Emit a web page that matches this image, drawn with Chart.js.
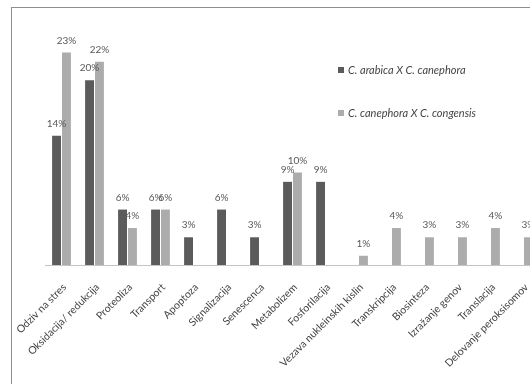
<!DOCTYPE html>
<html>
<head>
<meta charset="utf-8">
<script src="https://cdn.jsdelivr.net/npm/chart.js@4.4.1/dist/chart.umd.min.js"></script>
<style>
  html, body { margin: 0; padding: 0; background: #fff; overflow: hidden; width: 530px; height: 384px; }
  #frame { position: absolute; left: 11px; top: 7px; width: 620px; height: 440px; border: 1px solid #8e8e8e; box-sizing: border-box; }
  #wrap { position: absolute; left: 0; top: 0; width: 560px; height: 384px; }
</style>
</head>
<body>
<div id="frame"></div>
<div id="wrap"><canvas id="c" width="560" height="384"></canvas></div>
<script>
// Functional categories of genes
const categories = [
  'Odziv na stres', 'Oksidacija/ redukcija', 'Proteoliza', 'Transport', 'Apoptoza',
  'Signalizacija', 'Senescenca', 'Metabolizem', 'Fosforilacija',
  'Vezava nukleinskih kislin', 'Transkripcija', 'Biosinteza', 'Izražanje genov',
  'Translacija', 'Delovanje peroksisomov'
];

// Share of genes per category (%)
const arabicaXcanephora = [14, 20, 6, 6, 3, 6, 3, 9, 9, null, null, null, null, null, null];
const canephoraXcongensis = [23, 22, 4, 6, null, null, null, 10, null, 1, 4, 3, 3, 4, 3];

const seriesNames = ['C. arabica X C. canephora', 'C. canephora X C. congensis'];
const seriesColors = ['#5b5b5b', '#acacac'];

const FONT = 'Lato, "Liberation Sans", sans-serif';

// Percent labels above each bar
const valueLabels = {
  id: 'valueLabels',
  afterDatasetsDraw(chart) {
    const ctx = chart.ctx;
    ctx.save();
    ctx.font = '10px ' + FONT;
    ctx.fillStyle = '#595959';
    ctx.textAlign = 'center';
    ctx.textBaseline = 'middle';
    chart.data.datasets.forEach((ds, i) => {
      chart.getDatasetMeta(i).data.forEach((bar, j) => {
        const v = ds.data[j];
        if (v == null) return;
        ctx.fillText(Math.round(v) + '%', bar.x, bar.y - 12);
      });
    });
    ctx.restore();
  }
};

// Legend placed inside the plot, to the right
const insideLegend = {
  id: 'insideLegend',
  afterDraw(chart) {
    const ctx = chart.ctx;
    ctx.save();
    ctx.font = 'italic 11px ' + FONT;
    ctx.textAlign = 'left';
    ctx.textBaseline = 'middle';
    const x = 338, ys = [70, 113];
    chart.data.datasets.forEach((ds, i) => {
      ctx.fillStyle = ds.backgroundColor;
      ctx.fillRect(x, ys[i] - 3, 6, 6);
      ctx.fillStyle = '#444';
      ctx.fillText(ds.label, x + 10, ys[i]);
    });
    ctx.restore();
  }
};

new Chart(document.getElementById('c'), {
  type: 'bar',
  data: {
    labels: categories,
    datasets: [
      { label: seriesNames[0], data: arabicaXcanephora, backgroundColor: seriesColors[0] },
      { label: seriesNames[1], data: canephoraXcongensis, backgroundColor: seriesColors[1] }
    ]
  },
  options: {
    responsive: false,
    animation: false,
    devicePixelRatio: 1,
    categoryPercentage: 0.6,
    barPercentage: 0.9,
    layout: { padding: { left: 45, right: 20, top: 34, bottom: 0 } },
    plugins: {
      legend: { display: false },
      tooltip: { enabled: false }
    },
    scales: {
      x: {
        grid: { display: false, drawTicks: false },
        border: { color: '#c4c4c4', width: 1 },
        ticks: {
          autoSkip: false,
          maxRotation: 45,
          minRotation: 45,
          padding: 16,
          labelOffset: 3,
          color: '#444',
          font: { family: FONT, size: 10.5 }
        },
        afterFit(scale) {
          scale.height = 119;
          scale.paddingLeft = 0;
          scale.paddingRight = 0;
        }
      },
      y: {
        display: false,
        min: 0,
        max: 25
      }
    }
  },
  plugins: [valueLabels, insideLegend]
});
</script>
</body>
</html>
